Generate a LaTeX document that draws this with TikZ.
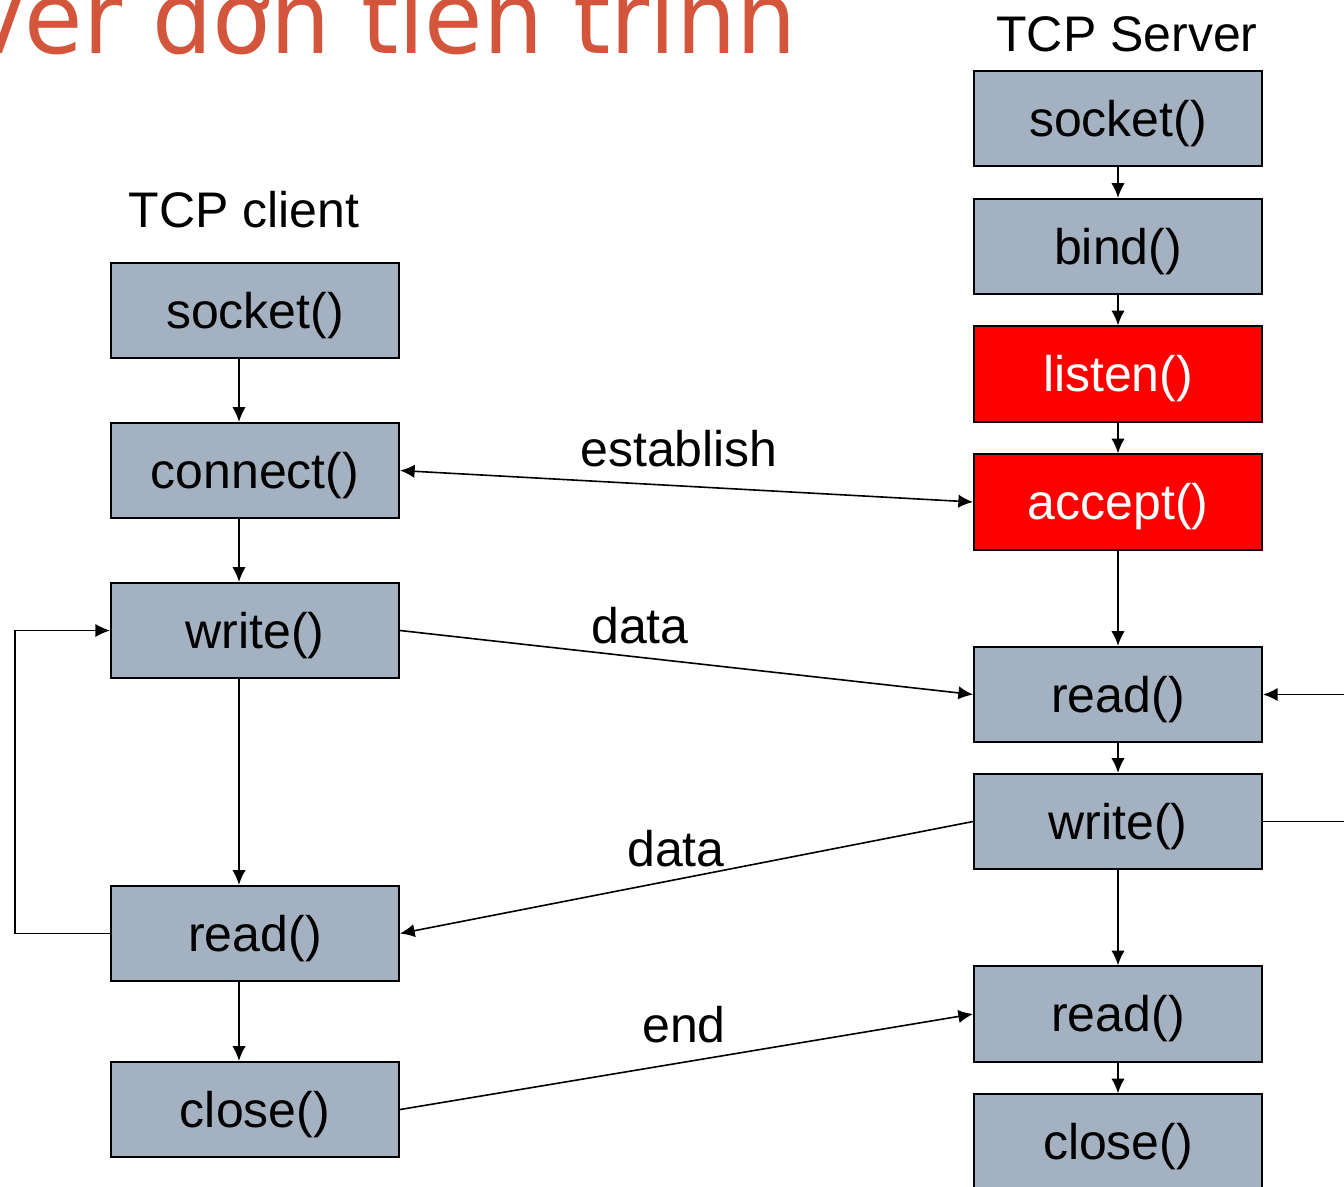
\documentclass[tikz,border=0pt]{standalone}
\usepackage{fontspec}
\setmainfont{Liberation Sans}
\newfontfamily\titlefont{DejaVu Sans}
\usetikzlibrary{arrows.meta}
\definecolor{boxgray}{RGB}{163,177,192}
\definecolor{titlered}{RGB}{210,85,60}
\begin{document}
\begin{tikzpicture}[x=0.75pt,y=-0.75pt,
  box/.style={draw=black, line width=1.5pt, fill=boxgray, minimum width=216pt, minimum height=71.5pt, inner sep=0pt, text height=31pt, text depth=4.5pt, font=\fontsize{37.5pt}{45pt}\selectfont},
  redbox/.style={box, fill=red, text=white},
  lbl/.style={anchor=base, inner sep=0pt, font=\fontsize{37.5pt}{45pt}\selectfont},
  arr/.style={line width=1.2pt, -{Latex[length=11pt,width=10pt]}},
  biarr/.style={line width=1.2pt, {Latex[length=11pt,width=10pt]}-{Latex[length=11pt,width=10pt]}},
  plain/.style={line width=1.2pt}]
\useasboundingbox (0,0) rectangle (1344,1186);
\clip (0,0) rectangle (1344,1186);
% title (clipped at top)
\node[anchor=base east, inner sep=0pt, text=titlered, font=\titlefont\fontsize{75pt}{88pt}\selectfont] (title) at (797,53) {\scalebox{0.95}[1]{ver đơn tiến trình}};
% client
\node[lbl] (tcpc) at (244,227) {TCP client};
\node[box] (cs) at (255,310.5) {socket()};
\node[box] (cc) at (255,470.5) {connect()};
\node[box] (cw) at (255,630.5) {write()};
\node[box] (cr) at (255,933.5) {read()};
\node[box] (ccl) at (255,1109.5) {close()};
% server
\node[lbl] (tcps) at (1127,51) {TCP Server};
\node[box] (ss) at (1118,118.5) {socket()};
\node[box] (sb) at (1118,246.5) {bind()};
\node[redbox] (sl) at (1118,374) {listen()};
\node[redbox] (sa) at (1118,502) {accept()};
\node[box] (sr) at (1118,694.5) {read()};
\node[box] (sw) at (1118,821.5) {write()};
\node[box] (sr2) at (1118,1014) {read()};
\node[box] (scl) at (1118,1142) {close()};
% client vertical arrows
\draw[arr] ([xshift=-12pt]cs.south) -- ([xshift=-12pt]cc.north);
\draw[arr] ([xshift=-12pt]cc.south) -- ([xshift=-12pt]cw.north);
\draw[arr] ([xshift=-12pt]cw.south) -- ([xshift=-12pt]cr.north);
\draw[arr] ([xshift=-12pt]cr.south) -- ([xshift=-12pt]ccl.north);
% server vertical arrows
\draw[arr] (ss.south) -- (sb.north);
\draw[arr] (sb.south) -- (sl.north);
\draw[arr] (sl.south) -- (sa.north);
\draw[arr] (sa.south) -- (sr.north);
\draw[arr] (sr.south) -- (sw.north);
\draw[arr] (sw.south) -- (sr2.north);
\draw[arr] (sr2.south) -- (scl.north);
% cross connectors
\draw[biarr] (cc.east) -- (sa.west);
\draw[arr] (cw.east) -- (sr.west);
\draw[arr] (sw.west) -- (cr.east);
\draw[arr] (ccl.east) -- (sr2.west);
\node[lbl] (l1) at (679,466) {establish};
\node[lbl] (l2) at (640,643) {data};
\node[lbl] (l3) at (676,866) {data};
\node[lbl] (l4) at (684,1042) {end};
% loop
\coordinate (loopx) at (15,0);
\draw[arr] (cr.west) -- (cr.west -| loopx) |- (cw.west);
% right edge
\coordinate (rin) at (1350,694.5);
\coordinate (rout) at (1350,821.5);
\draw[arr] (rin) -- (sr.east);
\draw[plain] (sw.east) -- (rout);
\end{tikzpicture}
\end{document}
